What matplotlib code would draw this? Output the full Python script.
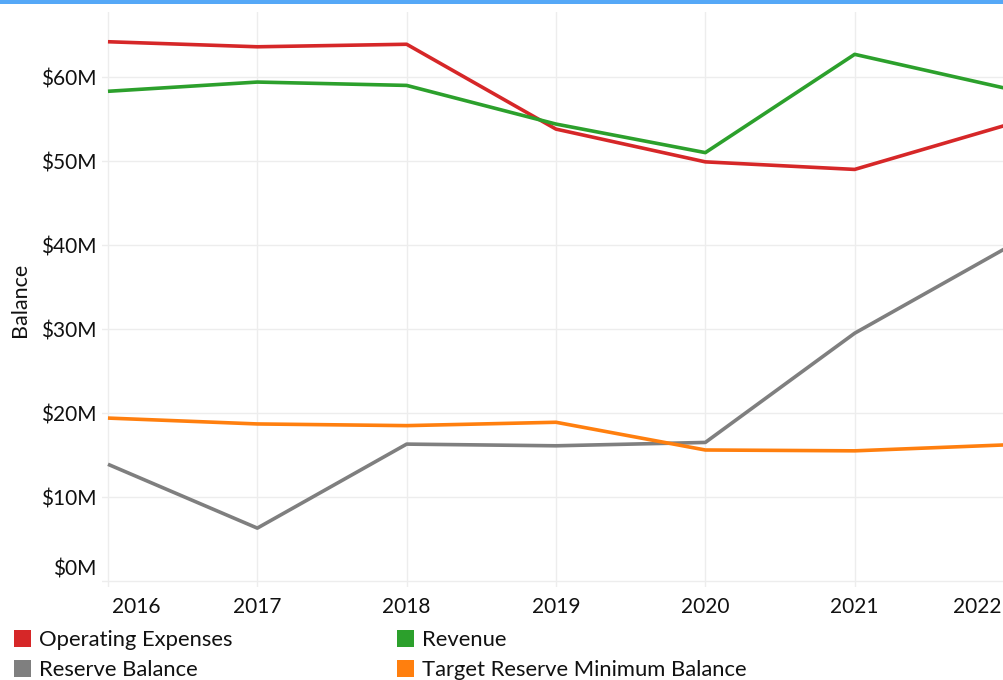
import matplotlib
matplotlib.use("Agg")
import matplotlib.pyplot as plt
import matplotlib.transforms as mtransforms
from matplotlib.patches import Rectangle

plt.rcParams['font.family'] = ['Lato', 'DejaVu Sans']

years = [2016, 2017, 2018, 2019, 2020, 2021, 2022]
operating_expenses = [64.2, 63.6, 63.9, 53.8, 49.9, 49.0, 54.2]
revenue = [58.3, 59.4, 59.0, 54.4, 51.0, 62.7, 58.7]
reserve_balance = [13.9, 6.3, 16.3, 16.1, 16.5, 29.5, 39.5]
target_reserve_min = [19.4, 18.7, 18.5, 18.9, 15.6, 15.5, 16.2]

series_names = ["Operating Expenses", "Revenue", "Reserve Balance", "Target Reserve Minimum Balance"]
series_values = [operating_expenses, revenue, reserve_balance, target_reserve_min]
series_colors = ["#d62728", "#2ca02c", "#7f7f7f", "#ff7f0e"]

y_ticks = [0, 10, 20, 30, 40, 50, 60]
y_tick_labels = ["$0M", "$10M", "$20M", "$30M", "$40M", "$50M", "$60M"]

W, H = 1004, 680
fig = plt.figure(figsize=(W / 100, H / 100), dpi=100)
px = lambda v: v / 100.0

# top blue bar
fig.add_artist(Rectangle((0, 1 - 4 / H), 1, 4 / H, transform=fig.transFigure,
                         color="#55a8f7", lw=0))

ax = fig.add_axes([102 / W, 1 - 587 / H, (1004 - 102) / W, (587 - 12) / H])
for name, vals, col in zip(series_names, series_values, series_colors):
    ax.plot(years, vals, color=col, lw=2.6, label=name, solid_capstyle='butt', clip_on=False)

ax.set_xlim(2015.96, 2022.0)
ax.set_ylim(-0.71, 67.74)
ax.set_xticks(years)
ax.set_xticklabels([str(y) for y in years])
ax.set_yticks(y_ticks)
ax.set_yticklabels(y_tick_labels)
ax.tick_params(axis='both', length=0, labelsize=15, colors='#111111')
ax.tick_params(axis='y', pad=4)
ax.tick_params(axis='x', pad=7)
ax.grid(True, color='#ededed', lw=1)
ax.set_axisbelow(True)
for s in ax.spines.values():
    s.set_visible(False)

# shift $0M label up like the reference
lbl0 = ax.get_yticklabels()[0]
lbl0.set_transform(lbl0.get_transform() + mtransforms.ScaledTranslation(0, px(14), fig.dpi_scale_trans))

# keep the edge year labels inside the figure like the reference
xl = ax.get_xticklabels()
xl[0].set_ha('left')
xl[0].set_transform(xl[0].get_transform() + mtransforms.ScaledTranslation(px(4), 0, fig.dpi_scale_trans))
xl[-1].set_ha('right')
xl[-1].set_transform(xl[-1].get_transform() + mtransforms.ScaledTranslation(px(-2), 0, fig.dpi_scale_trans))

fig.text(20 / W, 1 - 300 / H, "Balance", rotation=90, ha='center', va='center', fontsize=15.5, color='#111111')

# legend
leg_pos = [(14, 638), (397, 638), (14, 668), (397, 668)]
for (x, y), name, col in zip(leg_pos, series_names, series_colors):
    fig.add_artist(Rectangle((x / W, 1 - (y + 8.5) / H), 17 / W, 17 / H,
                             transform=fig.transFigure, color=col, lw=0))
    fig.text((x + 25) / W, 1 - (y + 2) / H, name, ha='left', va='center', fontsize=15.8, color='#111111')

fig.savefig("out.png", dpi=100)
